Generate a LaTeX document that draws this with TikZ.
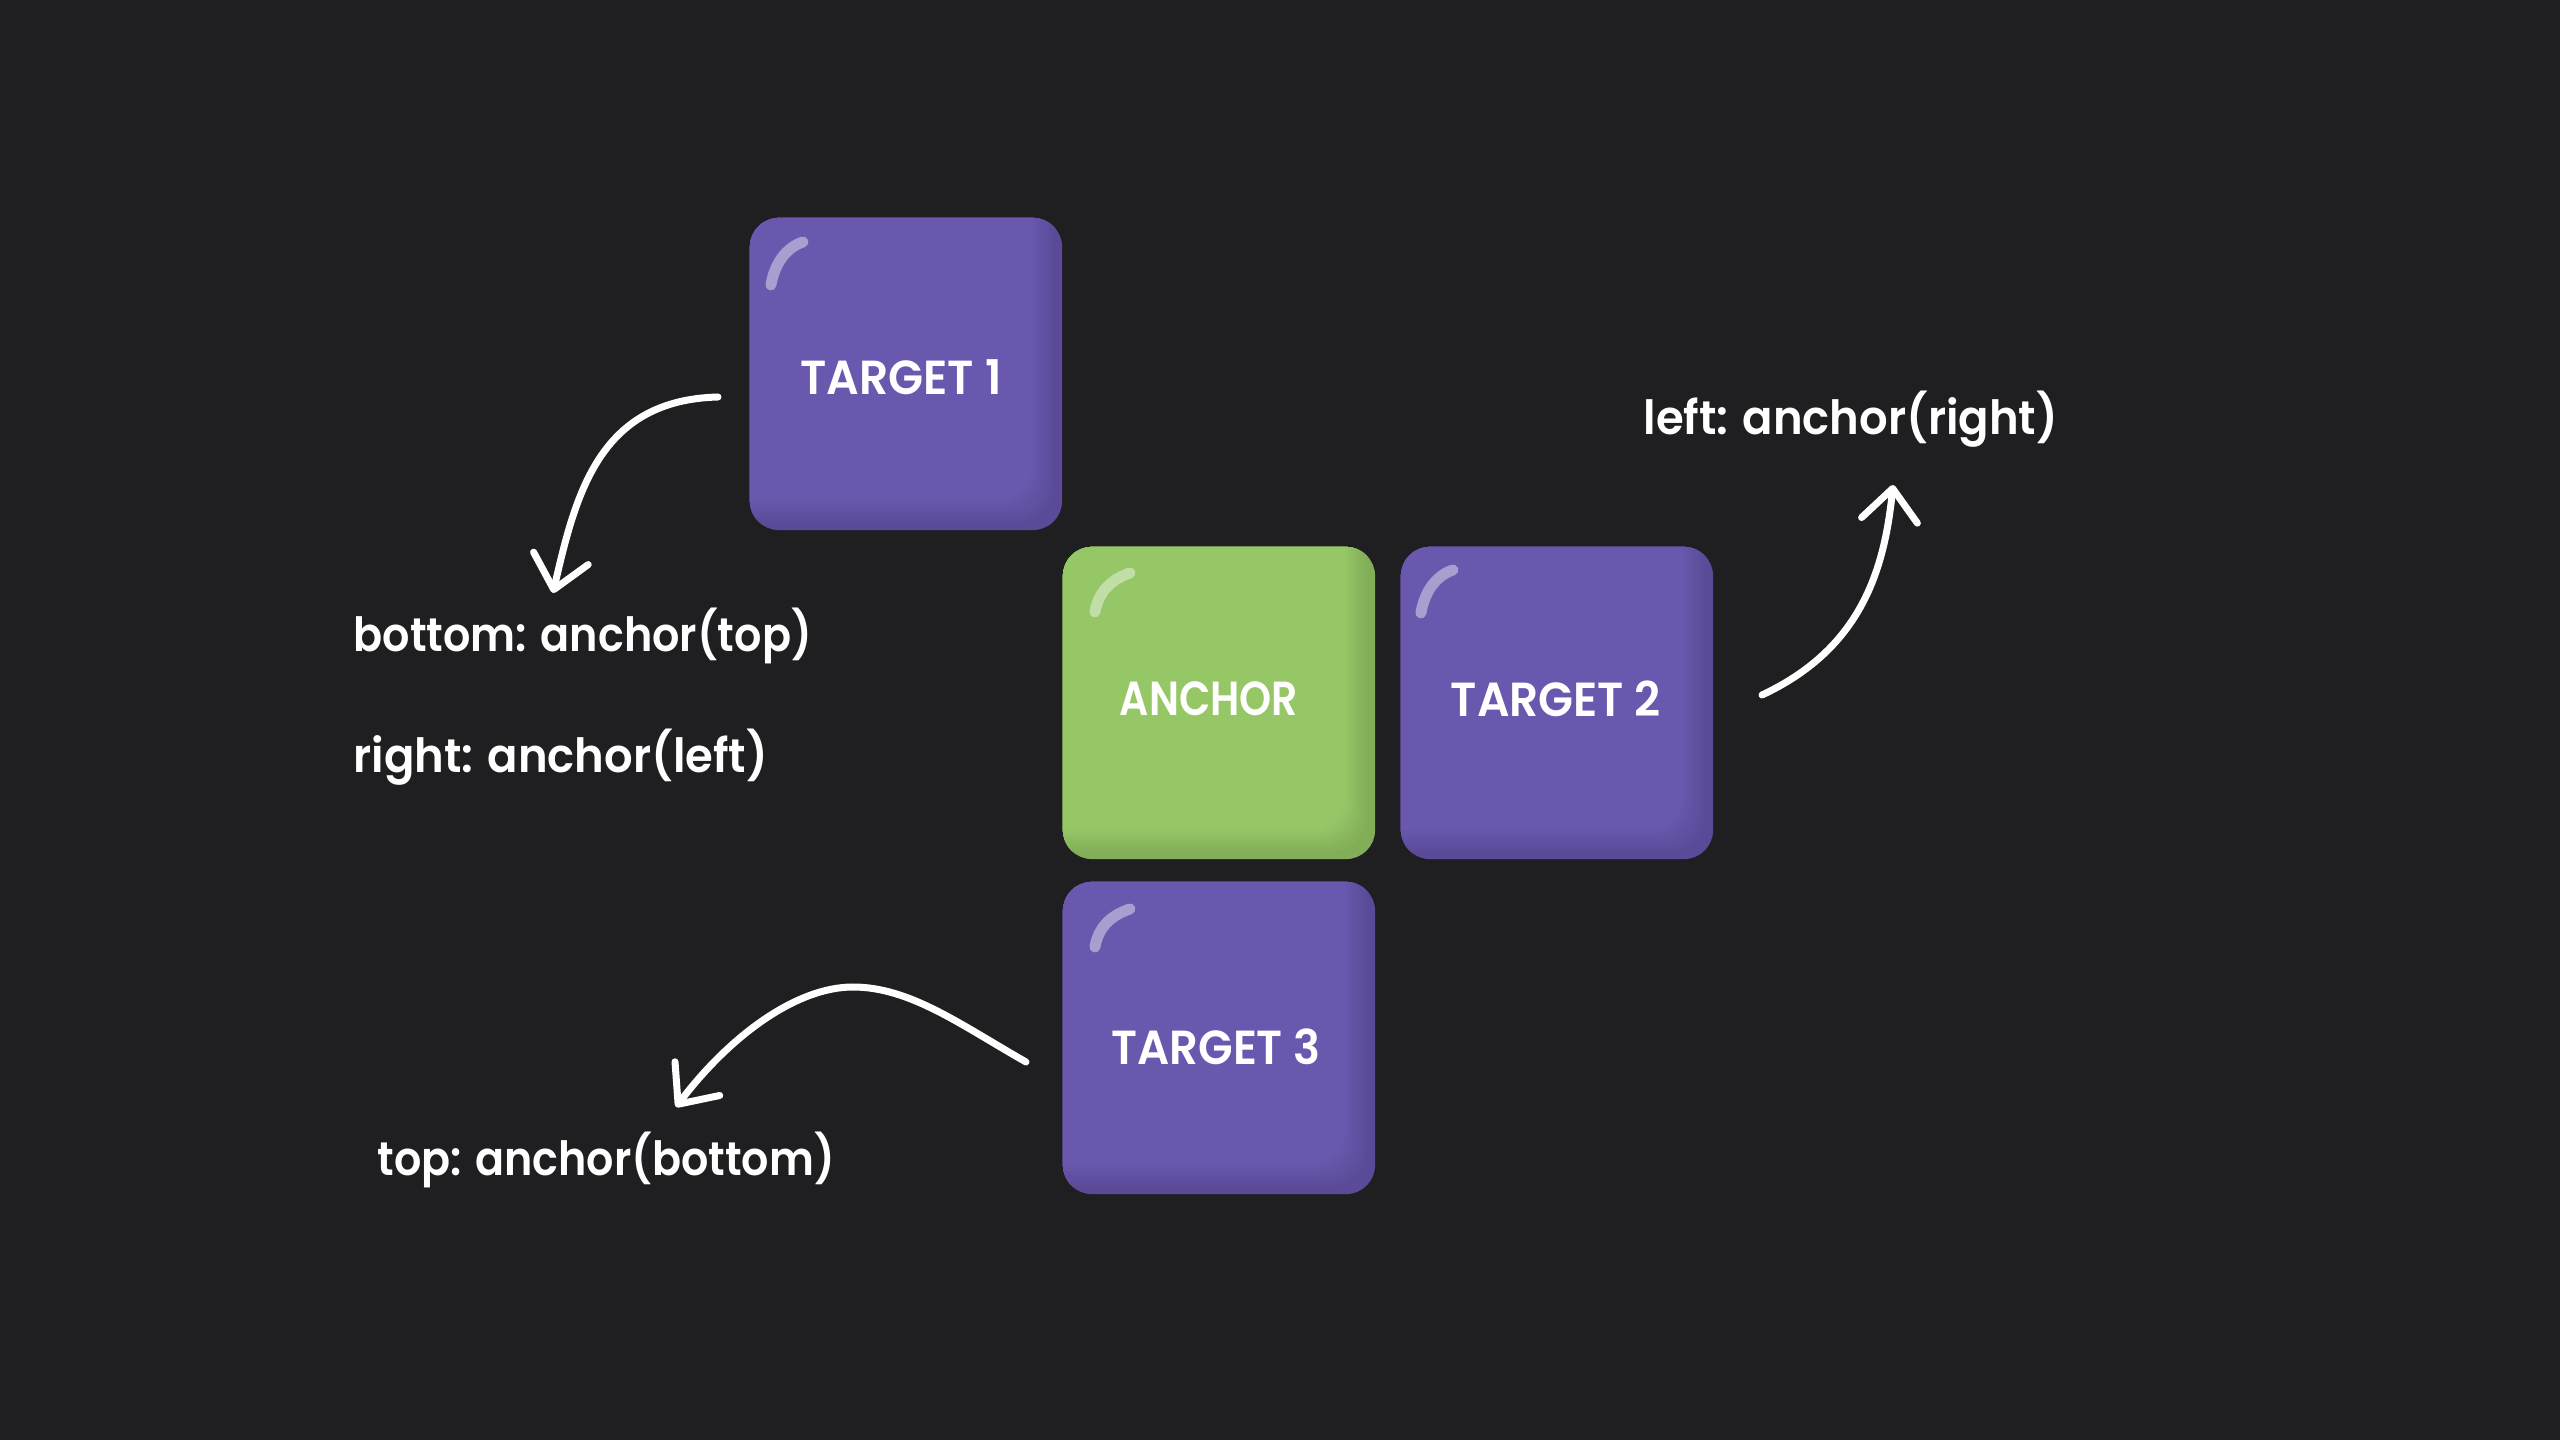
\documentclass[tikz,border=0pt]{standalone}
\usepackage{fontspec}
\usepackage{graphicx}
\usetikzlibrary{arrows.meta}
\newfontfamily\labfont{Poppins SemiBold}
\newfontfamily\boxfont{Poppins SemiBold}
\definecolor{bg}{HTML}{1F1F22}
\definecolor{pface}{HTML}{6A58AE}
\definecolor{pdark}{HTML}{5B4A97}
\definecolor{gface}{HTML}{95C767}
\definecolor{gdark}{HTML}{82AE57}
\newlength\kth
\newcommand\keytext[4]{% #1 doubled h-shift, #2 lift, #3 width, #4 text
  \settoheight\kth{\resizebox{#3}{\height}{#4}}%
  \raisebox{\dimexpr #2-0.5\kth\relax}[0pt][0pt]{\makebox[0pt][c]{\hspace*{#1}\resizebox{#3}{\height}{#4}}}}
\tikzset{
  keybox/.style={rounded corners=0.29cm, minimum width=3.12cm, minimum height=3.12cm,
    inner sep=0pt, text=white, font=\boxfont\fontsize{13.6pt}{16pt}\selectfont},
  keyshade/.style n args={4}{path picture={
    \foreach \i in {0,...,8}{
      \pgfmathsetmacro\pct{\i*12.5}
      \pgfmathsetmacro\ix{0.06+\i*0.03}
      \pgfmathsetmacro\iy{0.05+\i*0.03}
      \fill[#1!\pct!#2, rounded corners=0.34cm]
        ([shift={(-0.5cm,0.5cm)}]path picture bounding box.north west) rectangle
        ([xshift=-\ix cm,yshift=\iy cm]path picture bounding box.south east);
    }
    \draw[white, opacity=0.42, line width=0.11cm, line cap=round]
      ([shift={(#3)}]path picture bounding box.north west)
      .. controls +(0.04cm,0.22cm) and +(-0.17cm,-0.06cm) ..
      ([shift={(#4)}]path picture bounding box.north west);
  }},
  lab/.style={anchor=base west, inner sep=0pt, text=white,
    font=\labfont\fontsize{13.4pt}{16pt}\selectfont},
  conn/.style={draw=white, line width=0.07cm, line cap=round,
    -{Straight Barb[length=0.32cm,width=0.56cm,round]}}
}
\begin{document}
\begin{tikzpicture}[x=0.01cm,y=-0.01cm]
\useasboundingbox (0,0) rectangle (2560,1440);
\fill[bg] (0,0) rectangle (2560,1440);

\node[keybox, fill=pdark, keyshade={pface}{pdark}{0.21cm,-0.67cm}{0.53cm,-0.24cm}] (t1) at (906,374) {\keytext{-0.10cm}{-0.03cm}{2.01cm}{TARGET 1}};
\node[keybox, fill=gdark, keyshade={gface}{gdark}{0.32cm,-0.65cm}{0.67cm,-0.26cm}] (anc) at (1219,703) {\keytext{-0.20cm}{0.04cm}{1.78cm}{ANCHOR}};
\node[keybox, fill=pdark, keyshade={pface}{pdark}{0.20cm,-0.66cm}{0.52cm,-0.23cm}] (t2) at (1557,703) {\keytext{-0.02cm}{0.04cm}{2.10cm}{TARGET 2}};
\node[keybox, fill=pdark, keyshade={pface}{pdark}{0.32cm,-0.65cm}{0.67cm,-0.27cm}] (t3) at (1219,1038) {\keytext{-0.06cm}{-0.09cm}{2.09cm}{TARGET 3}};

\node[lab] (lbottom) at (353,652) {\resizebox{4.58cm}{\height}{bottom: anchor(top)}};
\node[lab] (lright) at (353,772) {\resizebox{4.14cm}{\height}{right: anchor(left)}};
\node[lab] (lleft) at (1643,435) {\resizebox{4.14cm}{\height}{left: anchor(right)}};
\node[lab] (ltop) at (377,1175) {\resizebox{4.57cm}{\height}{top: anchor(bottom)}};

\coordinate (a1s) at (718,397);
\coordinate (a1e) at (553,593);
\coordinate (a2s) at (1762,695);
\coordinate (a2e) at (1893,485);
\coordinate (a3s) at (1026,1062);
\coordinate (a3m) at (853,987);
\coordinate (a3e) at (676,1107);

\draw[conn] (a1s) .. controls (600,400) and (576,492) .. (a1e);
\draw[conn] (a2s) .. controls (1858,650) and (1884,575) .. (a2e);
\draw[conn] (a3s) .. controls (961,1025) and (910,987) .. (a3m)
  .. controls (795,987) and (728,1038) .. (a3e);
\end{tikzpicture}
\end{document}
